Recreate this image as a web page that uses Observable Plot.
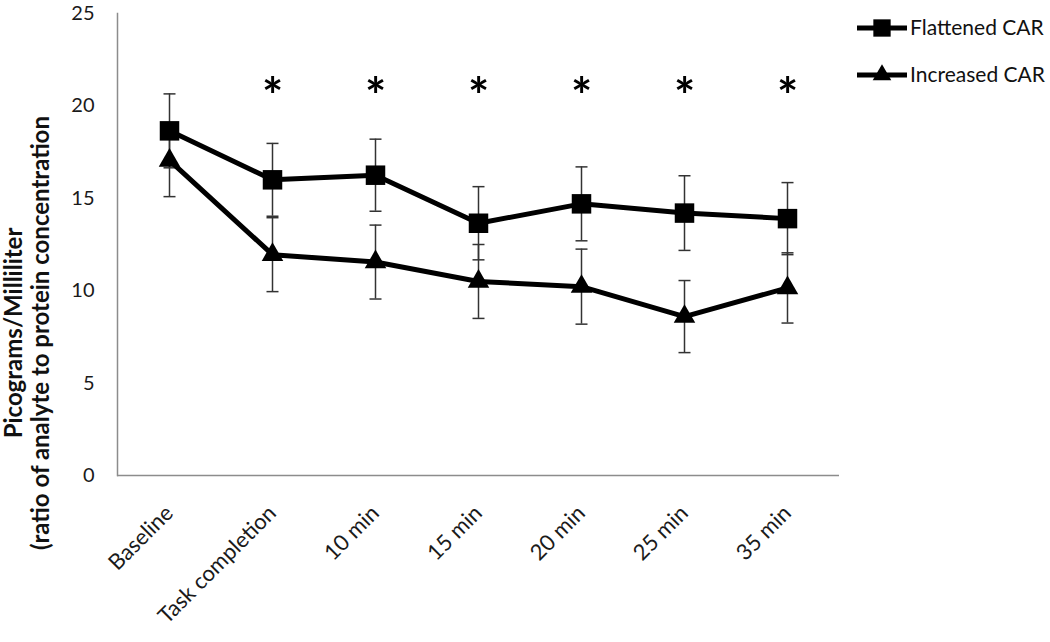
<!DOCTYPE html>
<html><head><meta charset="utf-8">
<script src="https://cdn.jsdelivr.net/npm/d3@7"></script>
<script src="https://cdn.jsdelivr.net/npm/@observablehq/plot@0.6"></script>
<style>
body{margin:0;background:#fff;}
#chart{position:relative;width:1050px;height:642px;}
svg{overflow:visible;}
</style>
</head><body><div id="chart"></div>
<script>
// ---- data ----
const timepoints = ["Baseline", "Task completion", "10 min", "15 min", "20 min", "25 min", "35 min"];
const flattenedMean = [18.65, 16.0, 16.25, 13.65, 14.7, 14.2, 13.9];
const flattenedErr  = [2.0, 1.97, 1.95, 1.98, 2.0, 2.02, 1.95];
const increasedMean = [17.05, 11.95, 11.55, 10.5, 10.22, 8.6, 10.15];
const increasedErr  = [1.96, 2.0, 2.0, 2.0, 2.03, 1.95, 1.9];
const starTimepoints = ["Task completion", "10 min", "15 min", "20 min", "25 min", "35 min"];
const starLevel = 21.3;
const yTicks = [0, 5, 10, 15, 20, 25];
const seriesNames = ["Flattened CAR", "Increased CAR"];
const yTitle = ["Picograms/Milliliter", "(ratio of analyte to protein concentration"];

// ---- table ----
const rows = [];
timepoints.forEach((t, i) => {
  rows.push({t, series: seriesNames[0], mean: flattenedMean[i], lo: flattenedMean[i] - flattenedErr[i], hi: flattenedMean[i] + flattenedErr[i]});
  rows.push({t, series: seriesNames[1], mean: increasedMean[i], lo: increasedMean[i] - increasedErr[i], hi: increasedMean[i] + increasedErr[i]});
});
const cap = {draw(ctx) { ctx.moveTo(-6, 0); ctx.lineTo(6, 0); }};
const font = "Lato, 'Open Sans', sans-serif";

const chart = Plot.plot({
  width: 1050, height: 642,
  marginLeft: 117, marginRight: 211, marginTop: 13, marginBottom: 167,
  style: {fontFamily: font, color: "#1a1a1a", background: "#fff"},
  x: {type: "point", domain: timepoints, padding: 0.5},
  y: {domain: [0, 25]},
  marks: [
    Plot.ruleY([0], {stroke: "#8c8c8c", strokeWidth: 1.5}),
    Plot.frame({anchor: "left", stroke: "#8c8c8c", strokeWidth: 1.5}),
    Plot.axisY({ticks: yTicks, tickSize: 0, tickPadding: 23, fontSize: 20, label: null}),
    Plot.axisX({tickSize: 0, tickRotate: -45, tickPadding: 34, fontSize: 22, label: null}),
    Plot.ruleX(rows, {x: "t", y1: "lo", y2: "hi", stroke: "#333", strokeWidth: 1.5}),
    Plot.dot(rows, {x: "t", y: "hi", symbol: cap, r: 4, fill: "none", stroke: "#333", strokeWidth: 1.5}),
    Plot.dot(rows, {x: "t", y: "lo", symbol: cap, r: 4, fill: "none", stroke: "#333", strokeWidth: 1.5}),
    Plot.line(rows, {x: "t", y: "mean", z: "series", stroke: "black", strokeWidth: 5, strokeLinejoin: "round"}),
    Plot.dot(rows.filter(d => d.series === seriesNames[0]), {x: "t", y: "mean", symbol: "square", r: 11, fill: "black", stroke: "none"}),
    Plot.dot(rows.filter(d => d.series === seriesNames[1]), {x: "t", y: "mean", symbol: "triangle", r: 8, fill: "black", stroke: "none"}),
    Plot.text(starTimepoints, {x: d => d, y: () => starLevel, text: () => "*", fontSize: 50, fontWeight: "bold", dy: 16, fill: "black"})
  ]
});
document.getElementById("chart").appendChild(chart);

// ---- y title and legend ----
const svg = d3.select(chart);
const titleX = [14, 41];
yTitle.forEach((s, i) => {
  svg.append("text")
    .attr("transform", `translate(${titleX[i]},333) rotate(-90)`)
    .attr("text-anchor", "middle").attr("dy", "0.35em")
    .attr("font-family", font).attr("font-weight", "bold").attr("font-size", 24)
    .attr("fill", "#111").text(s);
});
const legendY = [28, 75];
const legendSym = [d3.symbol(d3.symbolSquare, 300)(), d3.symbol(d3.symbolTriangle, 150)()];
seriesNames.forEach((name, i) => {
  const g = svg.append("g").attr("transform", `translate(0,${legendY[i]})`);
  g.append("line").attr("x1", 857).attr("x2", 907).attr("stroke", "black").attr("stroke-width", 5);
  g.append("path").attr("d", legendSym[i]).attr("transform", "translate(882,0)").attr("fill", "black");
  g.append("text").attr("x", 910).attr("dy", "0.35em").attr("text-anchor", "start").attr("font-family", font)
    .attr("font-size", 21).attr("fill", "#111").text(name);
});
</script>
</body></html>
